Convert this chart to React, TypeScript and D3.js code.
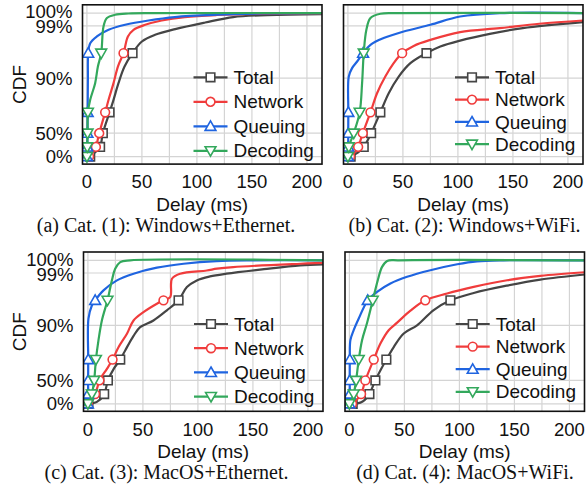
import React from 'react';
import * as d3 from 'd3';

// ---------- data ----------
const xTicks = [0, 50, 100, 150, 200];
const xGrid = [0, 25, 50, 75, 100, 125, 150, 175, 200];
const yTicks = [0, 0.5, 0.9, 0.99, 1];
const yTickLabels = ['0%', '50%', '90%', '99%', '100%'];
const markerLevels = [0, 0.25, 0.5, 0.75, 0.97];
const seriesNames = ['Total', 'Network', 'Queuing', 'Decoding'];
const seriesColors = ['#454545', '#f03c3c', '#1f64e0', '#33a85c'];
const seriesMarkers = ['square', 'circle', 'triangleUp', 'triangleDown'];
const captions = [
  '(a) Cat. (1): Windows+Ethernet.',
  '(b) Cat. (2): Windows+WiFi.',
  '(c) Cat. (3): MacOS+Ethernet.',
  '(d) Cat. (4): MacOS+WiFi.',
];

// CDF points: [delay (ms), cumulative fraction]
const totalA = [[3, 0], [7, 0.1], [12, 0.25], [14.5, 0.5], [20.6, 0.75], [24.2, 0.805], [28.7, 0.878], [34.2, 0.9325], [41.5, 0.97], [50, 0.9785], [62, 0.9834], [80.3, 0.9876], [107.5, 0.9926], [133, 0.9969], [164, 0.9984], [214, 0.9992]];
const networkA = [[2, 0], [5.5, 0.1], [8.2, 0.25], [11.2, 0.5], [16.6, 0.75], [19.7, 0.805], [24.2, 0.878], [28.2, 0.9325], [33.3, 0.97], [37.3, 0.9822], [42.4, 0.9871], [53, 0.9908], [68, 0.9942], [89, 0.9969], [118, 0.9985], [160, 0.9995], [214, 0.9998]];
const queueA = [[0, 0], [0.3, 0.25], [0.5, 0.5], [0.7, 0.75], [0.9, 0.9], [1.2, 0.97], [3, 0.9773], [9.1, 0.9822], [19.7, 0.9871], [34.8, 0.9908], [56, 0.9942], [80, 0.9969], [118, 0.9987], [160, 0.9997], [214, 1]];
const decodeA = [[0, 0], [0.3, 0.25], [0.6, 0.5], [0.9, 0.75], [3, 0.805], [7.5, 0.878], [10, 0.9325], [13, 0.97], [15.1, 0.9895], [18.2, 0.9961], [25.7, 0.9987], [37.8, 0.9997], [60, 1], [214, 1]];

const totalB = [[2.5, 0], [9, 0.1], [14.4, 0.25], [21.1, 0.5], [29.5, 0.75], [37.1, 0.834], [46.2, 0.9045], [56.8, 0.942], [71.4, 0.97], [84, 0.9749], [102, 0.9792], [129, 0.9841], [159, 0.9883], [214, 0.9929]];
const networkB = [[2, 0], [6, 0.1], [9.3, 0.25], [13.5, 0.5], [20.5, 0.75], [26.5, 0.834], [34, 0.9045], [41.6, 0.942], [49.3, 0.97], [59.8, 0.9753], [75, 0.9797], [102, 0.9854], [138, 0.9883], [174, 0.9916], [214, 0.9942]];
const queueB = [[0, 0], [0.3, 0.25], [0.3, 0.5], [0.4, 0.75], [0.8, 0.9045], [3.8, 0.928], [8.4, 0.9465], [13.8, 0.97], [20.5, 0.9761], [32.5, 0.981], [50.7, 0.9858], [75, 0.9908], [102, 0.9973], [138, 1], [214, 1]];
const decodeB = [[0, 0], [0.8, 0.25], [5.3, 0.5], [10.7, 0.75], [12.9, 0.878], [14.4, 0.97], [16.8, 0.9871], [20.5, 0.9961], [29.5, 0.9995], [45, 1], [214, 1]];

const totalC = [[0.5, 0], [8.2, 0.05], [14.8, 0.25], [18.2, 0.5], [24, 0.65], [29.4, 0.75], [33.9, 0.79], [41.5, 0.854], [47.5, 0.892], [59.6, 0.9137], [71.8, 0.942], [82.4, 0.97], [90, 0.9797], [99, 0.9846], [111, 0.9875], [126, 0.9895], [160, 0.993], [193, 0.996], [214, 0.9968]];
const networkC = [[0, 0], [5.1, 0.17], [8.2, 0.347], [10.5, 0.5], [17.3, 0.639], [22.4, 0.75], [27.8, 0.804], [35.5, 0.863], [41.5, 0.9137], [50.5, 0.937], [62.7, 0.9605], [68.7, 0.97], [74.8, 0.9723], [76.4, 0.9858], [83.9, 0.9895], [108, 0.992], [117.3, 0.9934], [132, 0.9947], [193, 0.9973], [214, 0.998]];
const queueC = [[0, 0], [0.2, 0.25], [0.2, 0.5], [0.3, 0.75], [0.5, 0.9185], [3.6, 0.9557], [6.6, 0.97], [14.2, 0.9773], [26.4, 0.9846], [41.5, 0.9895], [62.7, 0.9942], [87, 0.9973], [117, 0.9994], [150, 1], [214, 1]];
const decodeC = [[0, 0], [2, 0.1], [3.6, 0.25], [5.7, 0.5], [7.3, 0.75], [9.6, 0.834], [12.7, 0.9137], [17.8, 0.97], [21.8, 0.9846], [24.8, 0.9934], [29.4, 0.9986], [38.5, 1], [214, 1]];

const totalD = [[3, 0], [10, 0.03], [14, 0.1], [18.2, 0.25], [23.6, 0.5], [33.6, 0.75], [40.3, 0.805], [49.4, 0.864], [61.5, 0.9], [76.6, 0.9425], [91.8, 0.97], [113, 0.9754], [143.4, 0.9808], [173.6, 0.9852], [214, 0.9889]];
const networkD = [[2.4, 0], [6.5, 0.1], [10.6, 0.25], [14.5, 0.5], [22.1, 0.75], [28.2, 0.82], [35.7, 0.8786], [43.4, 0.9075], [55.5, 0.9409], [69, 0.97], [88.8, 0.975], [113, 0.9798], [143.4, 0.9847], [173.6, 0.9879], [214, 0.9906]];
const queueD = [[0, 0], [0.3, 0.25], [0.3, 0.5], [0.4, 0.75], [0.9, 0.835], [3.9, 0.8786], [8.5, 0.919], [16.7, 0.97], [25.2, 0.9762], [37.3, 0.9823], [52.4, 0.9872], [73.6, 0.9922], [98, 0.9969], [116, 0.9992], [140, 1], [214, 1]];
const decodeD = [[0, 0], [2, 0.1], [3.9, 0.25], [6.1, 0.5], [8.5, 0.75], [11.5, 0.835], [16.1, 0.9075], [21.2, 0.97], [25.8, 0.9847], [29.7, 0.9948], [34.3, 0.9995], [45, 1], [214, 1]];

// non-uniform CDF axis: knots (fraction) and their relative heights
const yKnots = [0, 0.25, 0.5, 0.75, 0.9, 0.97, 0.99, 1];
const yKnotHeights = [0, 9.7, 23.4, 44.2, 78.4, 103.4, 130.7, 143.4];

// ---------- layout ----------
const W = 239.5;
const H = 159.3;
const panels = [
  { left: 82.5, top: 4.8, data: [totalA, networkA, queueA, decodeA], showY: true, legX: 193.5, legY: 77.3, legStep: 24.5 },
  { left: 343.5, top: 4.8, data: [totalB, networkB, queueB, decodeB], showY: false, legX: 455, legY: 77.3, legStep: 22.3 },
  { left: 83.5, top: 252, data: [totalC, networkC, queueC, decodeC], showY: true, legX: 194, legY: 324, legStep: 24.2 },
  { left: 345, top: 252, data: [totalD, networkD, queueD, decodeD], showY: false, legX: 455.7, legY: 324, legStep: 22.6 },
];
const captionCenters = [166, 464.5, 166.5, 465];
const yLabelNudge = [0, 0, 0, 1.2, -1.2];

const SANS = 'Liberation Sans, Arial, Helvetica, sans-serif';
const SERIF = 'Liberation Serif, Times New Roman, serif';

function markerPath(kind: string, cx: number, cy: number) {
  if (kind === 'square') {
    const s = 4.3;
    return `M${cx - s},${cy - s}H${cx + s}V${cy + s}H${cx - s}Z`;
  }
  if (kind === 'circle') {
    const r = 4.4;
    return `M${cx - r},${cy}A${r},${r} 0 1,0 ${cx + r},${cy}A${r},${r} 0 1,0 ${cx - r},${cy}Z`;
  }
  const a = 5.4;
  if (kind === 'triangleUp') {
    return `M${cx},${cy - a}L${cx + a},${cy + a * 0.75}L${cx - a},${cy + a * 0.75}Z`;
  }
  return `M${cx},${cy + a}L${cx + a},${cy - a * 0.75}L${cx - a},${cy - a * 0.75}Z`;
}

function levelX(pts: number[][], level: number) {
  for (let i = 0; i < pts.length; i++) {
    if (pts[i][1] >= level) {
      if (i === 0) return pts[0][0];
      const [x0, y0] = pts[i - 1];
      const [x1, y1] = pts[i];
      return x0 + ((level - y0) / (y1 - y0)) * (x1 - x0);
    }
  }
  return pts[pts.length - 1][0];
}

function Panel({ p, idx }: { p: any; idx: number }) {
  const x = d3.scaleLinear().domain([-4, 213.7]).range([p.left, p.left + W]);
  const bottom = p.top + H;
  const y0 = bottom - 7.5;
  const y100 = p.top + 8.3;
  const k = (y0 - y100) / yKnotHeights[yKnotHeights.length - 1];
  const y = d3.scaleLinear().domain(yKnots).range(yKnotHeights.map((h) => y0 - h * k));
  const line = d3
    .line<number[]>()
    .x((d) => x(d[0]))
    .y((d) => y(d[1]))
    .curve(d3.curveCatmullRom.alpha(0.5));
  const clipId = `clip${idx}`;
  return (
    <g>
      <defs>
        <clipPath id={clipId}>
          <rect x={p.left} y={p.top} width={W} height={H} />
        </clipPath>
      </defs>
      {xGrid.map((t) => (
        <line key={'gx' + t} x1={x(t)} x2={x(t)} y1={p.top} y2={bottom} stroke="#d4d4d4" strokeWidth={1.2} />
      ))}
      {yTicks.map((t) => (
        <line key={'gy' + t} x1={p.left} x2={p.left + W} y1={y(t)} y2={y(t)} stroke="#d4d4d4" strokeWidth={1.2} />
      ))}
      <g clipPath={`url(#${clipId})`}>
        {p.data.map((pts: number[][], si: number) => (
          <g key={si}>
            <path d={line(pts) || ''} fill="none" stroke={seriesColors[si]} strokeWidth={2.2} />
            {markerLevels.map((lv) => (
              <path
                key={lv}
                d={markerPath(seriesMarkers[si], x(levelX(pts, lv)), y(lv))}
                fill="#fff"
                stroke={seriesColors[si]}
                strokeWidth={1.6}
              />
            ))}
          </g>
        ))}
      </g>
      <rect x={p.left} y={p.top} width={W} height={H} fill="none" stroke="#111" strokeWidth={1.6} />
      {xTicks.map((t) => (
        <text key={'tx' + t} x={x(t)} y={bottom + 24.2} textAnchor="middle" fontFamily={SANS} fontSize={18.5} fill="#111">
          {t}
        </text>
      ))}
      {p.showY &&
        yTicks.map((t, i) => (
          <text
            key={'ty' + t}
            x={p.left - 10}
            y={y(t) + yLabelNudge[i]}
            dy="0.35em"
            textAnchor="end"
            fontFamily={SANS}
            fontSize={18.5}
            fill="#111"
          >
            {yTickLabels[i]}
          </text>
        ))}
      {p.showY && (
        <text
          transform={`translate(${26},${p.top + H / 2}) rotate(-90)`}
          textAnchor="middle"
          fontFamily={SANS}
          fontSize={19}
          fill="#111"
        >
          CDF
        </text>
      )}
      <text x={p.left + W / 2} y={bottom + 46.5} textAnchor="middle" fontFamily={SANS} fontSize={19} fill="#111">
        Delay (ms)
      </text>
      <text x={captionCenters[idx]} y={bottom + 68} textAnchor="middle" fontFamily={SERIF} fontSize={20} fill="#111">
        {captions[idx]}
      </text>
      {seriesNames.map((name, si) => {
        const ly = p.legY + si * p.legStep;
        return (
          <g key={'lg' + name}>
            <line x1={p.legX} x2={p.legX + 34} y1={ly} y2={ly} stroke={seriesColors[si]} strokeWidth={2.2} />
            <path d={markerPath(seriesMarkers[si], p.legX + 17, ly)} fill="#fff" stroke={seriesColors[si]} strokeWidth={1.6} />
            <text x={p.legX + 40} y={ly} dy="0.35em" fontFamily={SANS} fontSize={19} fill="#111">
              {name}
            </text>
          </g>
        );
      })}
    </g>
  );
}

export default function App() {
  return (
    <svg
      width={586}
      height={486}
      style={{ position: 'absolute', left: 0, top: 0, background: '#fff' }}
      xmlns="http://www.w3.org/2000/svg"
    >
      <rect x={0} y={0} width={586} height={486} fill="#fff" />
      {panels.map((p, i) => (
        <Panel key={i} p={p} idx={i} />
      ))}
    </svg>
  );
}
